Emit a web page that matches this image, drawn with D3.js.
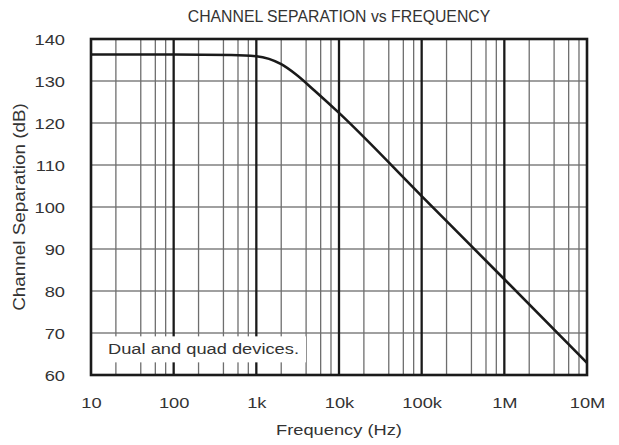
<!DOCTYPE html>
<html>
<head>
<meta charset="utf-8">
<script src="https://cdn.jsdelivr.net/npm/d3@7"></script>
<style>
  body { margin: 0; background: #fff; }
  text { font-family: "Liberation Sans", Arial, sans-serif; fill: #333; }
</style>
</head>
<body>
<svg id="chart"></svg>
<script>
// values
var freqs = [10, 100, 500, 1000, 2000, 3000, 5000, 10000, 100000, 1000000, 10000000];
var separation = [136.3, 136.3, 136.2, 135.9, 134.0, 131.6, 127.8, 122.4, 102.6, 82.8, 62.9];
var decadeTicks = [10, 100, 1e3, 1e4, 1e5, 1e6, 1e7];
var decadeLabels = ["10", "100", "1k", "10k", "100k", "1M", "10M"];
var minorSteps = [2, 4, 6, 8];
var yTicks = [60, 70, 80, 90, 100, 110, 120, 130, 140];

var screen = {width: 619, height: 445};
var margins = {top: 39, right: 32, bottom: 70, left: 91};
var width = screen.width - margins.left - margins.right;
var height = screen.height - margins.top - margins.bottom;
var fontSize = 15.5;
var widen = 1.18;   // the original font is wider than Arial

var svg = d3.select("#chart")
    .attr("width", screen.width)
    .attr("height", screen.height);

var xScale = d3.scaleLog().domain([10, 1e7]).range([0, width]);
var yScale = d3.scaleLinear().domain([60, 140]).range([height, 0]);

// stretch text sideways around its anchor point
var stretch = function(sel) {
    sel.each(function() {
        var t = d3.select(this);
        var x = +t.attr("x") || 0;
        t.attr("x", x / widen).attr("transform", "scale(" + widen + ",1)");
    });
};

var graph = svg.append("g")
    .attr("transform", "translate(" + margins.left + "," + margins.top + ")");

// minor verticals at 2,4,6,8 of each decade
var minors = [];
decadeTicks.slice(0, -1).forEach(function(d) {
    minorSteps.forEach(function(m) { minors.push(d * m); });
});

graph.append("g").selectAll("line")
    .data(yTicks.slice(1, -1))
    .enter().append("line")
    .attr("x1", 0).attr("x2", width)
    .attr("y1", function(d) { return yScale(d); })
    .attr("y2", function(d) { return yScale(d); })
    .attr("stroke", "#808080").attr("stroke-width", 1.6);

graph.append("g").selectAll("line")
    .data(minors)
    .enter().append("line")
    .attr("x1", function(d) { return xScale(d); })
    .attr("x2", function(d) { return xScale(d); })
    .attr("y1", 0).attr("y2", height)
    .attr("stroke", "#6e6e6e").attr("stroke-width", 1.3);

graph.append("g").selectAll("line")
    .data(decadeTicks.slice(1, -1))
    .enter().append("line")
    .attr("x1", function(d) { return xScale(d); })
    .attr("x2", function(d) { return xScale(d); })
    .attr("y1", 0).attr("y2", height)
    .attr("stroke", "#1a1a1a").attr("stroke-width", 2.3);

// the note box hides the grid under it
graph.append("rect")
    .attr("x", 3).attr("y", yScale(69.2))
    .attr("width", 212).attr("height", 26)
    .attr("fill", "#fff");
graph.append("text")
    .attr("x", 17).attr("y", yScale(64.9))
    .attr("font-size", fontSize + "px")
    .text("Dual and quad devices.")
    .call(stretch);

var lineGenerator = d3.line()
    .x(function(d, i) { return xScale(freqs[i]); })
    .y(function(d) { return yScale(d); })
    .curve(d3.curveMonotoneX);

graph.append("path")
    .datum(separation)
    .attr("d", lineGenerator)
    .attr("fill", "none")
    .attr("stroke", "#1a1a1a")
    .attr("stroke-width", 2.6);

graph.append("rect")
    .attr("width", width).attr("height", height)
    .attr("fill", "none")
    .attr("stroke", "#1a1a1a").attr("stroke-width", 2.6);

// axes, labels only
var xAxis = d3.axisBottom(xScale)
    .tickValues(decadeTicks)
    .tickFormat(function(d, i) { return decadeLabels[i]; })
    .tickSize(0).tickPadding(22);
var yAxis = d3.axisLeft(yScale)
    .tickValues(yTicks)
    .tickSize(0).tickPadding(26);

graph.append("g")
    .attr("transform", "translate(0," + height + ")")
    .call(xAxis)
    .call(function(g) { g.select(".domain").remove(); })
    .selectAll("text")
    .attr("font-size", fontSize + "px").attr("fill", "#333")
    .attr("text-anchor", "middle")
    .call(stretch);

graph.append("g")
    .call(yAxis)
    .call(function(g) { g.select(".domain").remove(); })
    .selectAll("text")
    .attr("font-size", fontSize + "px").attr("fill", "#333")
    .attr("text-anchor", "end").attr("x", -26).attr("dy", "0.36em")
    .call(stretch);

svg.append("text")
    .attr("x", margins.left + width / 2).attr("y", 22)
    .attr("text-anchor", "middle").attr("font-size", "15.8px")
    .text("CHANNEL SEPARATION vs FREQUENCY");

svg.append("g")
    .attr("transform", "translate(" + (margins.left + width / 2) + ",435)")
    .append("text")
    .attr("text-anchor", "middle").attr("font-size", fontSize + "px")
    .text("Frequency (Hz)")
    .call(stretch);

svg.append("g")
    .attr("transform", "translate(25," + (margins.top + height / 2) + ") rotate(-90)")
    .append("text")
    .attr("text-anchor", "middle").attr("font-size", "16px")
    .text("Channel Separation (dB)")
    .call(stretch);
</script>
</body>
</html>
